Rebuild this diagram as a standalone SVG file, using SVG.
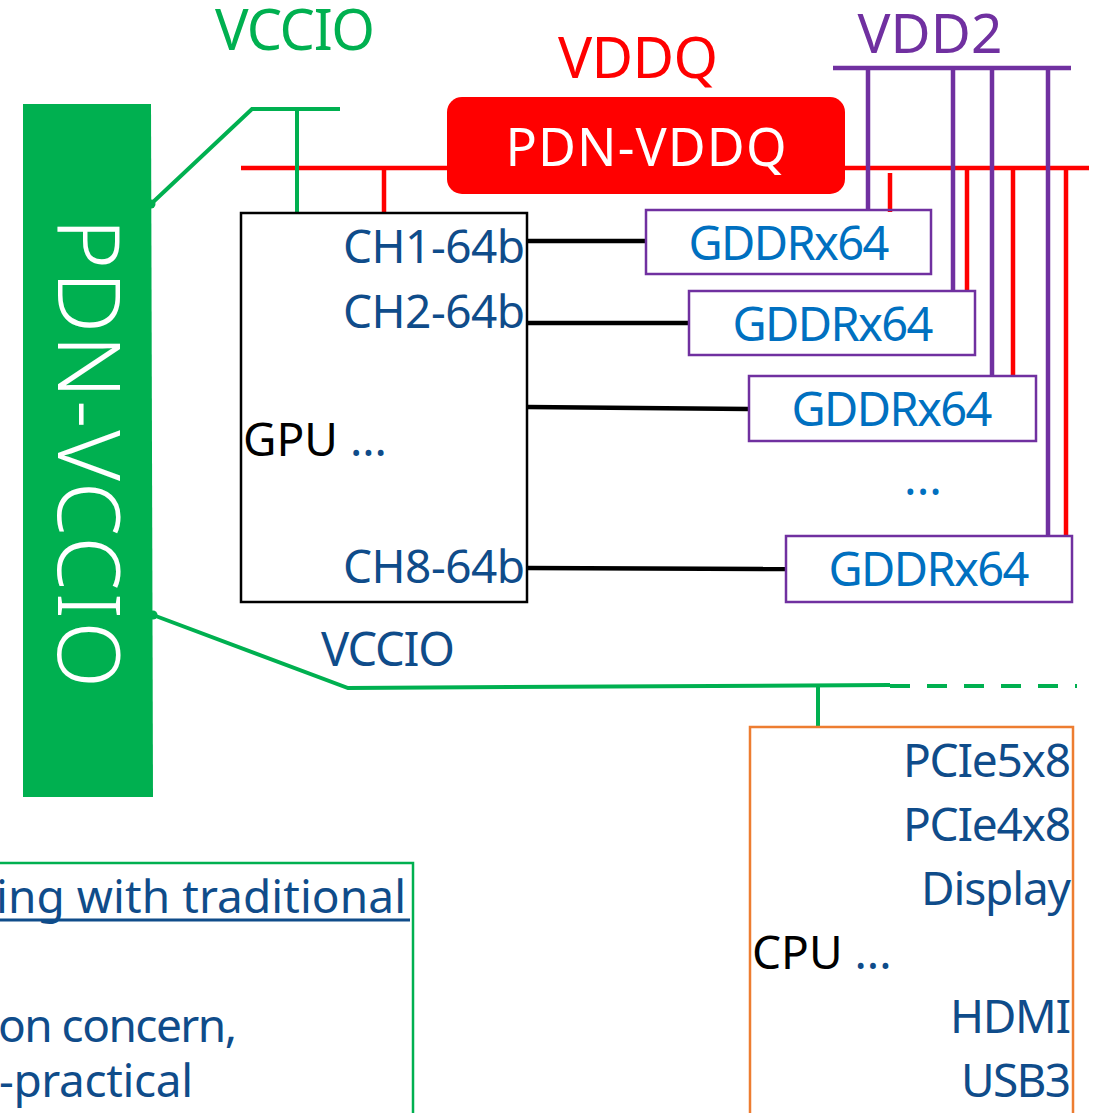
<svg xmlns="http://www.w3.org/2000/svg" width="1097" height="1113" viewBox="0 0 1097 1113">
<style>
text{font-family:"Noto Sans","Open Sans","Liberation Sans",sans-serif}
.db{fill:#0F4C8A}
.gb{fill:#0070C0}
.gd{fill:none;stroke:#7030A0;stroke-width:2.5}
.blk{stroke:#000;stroke-width:4.5}
.red{stroke:#FF0000;stroke-width:4.5}
.pur{stroke:#7030A0;stroke-width:4.5}
.grn{stroke:#00B050;stroke-width:4;fill:none}
</style>
<rect width="1097" height="1113" fill="#fff"/>
<g id="labels">
<text x="295" y="50" font-size="56" fill="#00B050" text-anchor="middle" textLength="160">VCCIO</text>
<text x="638" y="78" font-size="57" fill="#FF0000" text-anchor="middle" textLength="160">VDDQ</text>
<text x="930" y="53" font-size="55" fill="#7030A0" text-anchor="middle" textLength="145">VDD2</text>
<text x="388" y="666" font-size="47" class="db" text-anchor="middle" textLength="134">VCCIO</text>
</g>
<g id="connectors">
<line x1="241" y1="168" x2="1089" y2="168" class="red"/>
<line x1="384" y1="168" x2="384" y2="213" class="red"/>
<line x1="890" y1="173" x2="890" y2="212" class="red"/>
<line x1="967" y1="168" x2="967" y2="291" class="red"/>
<line x1="1013" y1="168" x2="1013" y2="376" class="red"/>
<line x1="1066" y1="168" x2="1066" y2="536" class="red"/>
<line x1="833" y1="68" x2="1071" y2="68" class="pur"/>
<line x1="868" y1="68" x2="868" y2="210" class="pur"/>
<line x1="953" y1="68" x2="953" y2="291" class="pur"/>
<line x1="992" y1="68" x2="992" y2="376" class="pur"/>
<line x1="1048" y1="68" x2="1048" y2="536" class="pur"/>
<line x1="527" y1="241" x2="646" y2="241" class="blk"/>
<line x1="527" y1="323" x2="689" y2="323" class="blk"/>
<line x1="527" y1="407" x2="749" y2="409" class="blk"/>
<line x1="527" y1="568" x2="786" y2="569" class="blk"/>
<polyline points="151,204 252,109 340,109" class="grn"/>
<line x1="297" y1="109" x2="297" y2="213" class="grn"/>
<circle cx="151" cy="204" r="4.5" fill="#00B050"/>
<polyline points="153,615 348,688 890,685" class="grn"/>
<line x1="890" y1="686" x2="1077" y2="686" class="grn" stroke-dasharray="20 17"/>
<line x1="818" y1="686" x2="818" y2="727" class="grn"/>
<circle cx="153" cy="615" r="4.5" fill="#00B050"/>
</g>
<g id="pdn-vccio">
<polygon points="23,104 151,104 153,797 23,797" fill="#00B050"/>
<text transform="translate(58,453) rotate(90)" font-size="87" font-weight="300" fill="#fff" text-anchor="middle" textLength="470">PDN-VCCIO</text>
</g>
<g id="pdn-vddq">
<rect x="447" y="97" width="398" height="97" rx="15" fill="#FF0000"/>
<text x="646" y="166" font-size="52" fill="#fff" text-anchor="middle" textLength="281">PDN-VDDQ</text>
</g>
<g id="gpu">
<rect x="241" y="213" width="286" height="389" fill="none" stroke="#000" stroke-width="2.5"/>
<text x="525" y="263" font-size="46" class="db" text-anchor="end" textLength="182">CH1-64b</text>
<text x="525" y="328" font-size="46" class="db" text-anchor="end" textLength="182">CH2-64b</text>
<text x="525" y="583" font-size="46" class="db" text-anchor="end" textLength="182">CH8-64b</text>
<text x="243" y="456" font-size="46" fill="#000">GPU<tspan class="db"> ...</tspan></text>
</g>
<g id="gddr1">
<rect x="646" y="210" width="285" height="64" class="gd"/>
<text x="789" y="260" font-size="47" class="gb" text-anchor="middle" textLength="201">GDDRx64</text>
</g>
<g id="gddr2">
<rect x="689" y="291" width="286" height="64" class="gd"/>
<text x="833" y="341" font-size="47" class="gb" text-anchor="middle" textLength="201">GDDRx64</text>
</g>
<g id="gddr3">
<rect x="749" y="376" width="287" height="65" class="gd"/>
<text x="892" y="426" font-size="47" class="gb" text-anchor="middle" textLength="201">GDDRx64</text>
</g>
<text x="923" y="495" font-size="47" class="gb" text-anchor="middle">...</text>
<g id="gddr4">
<rect x="786" y="536" width="286" height="66" class="gd"/>
<text x="929" y="586" font-size="47" class="gb" text-anchor="middle" textLength="201">GDDRx64</text>
</g>
<g id="cpu">
<rect x="750" y="727" width="323" height="400" fill="none" stroke="#ED7D31" stroke-width="2.5"/>
<text x="1071" y="777" font-size="46" class="db" text-anchor="end" textLength="168">PCIe5x8</text>
<text x="1071" y="841" font-size="46" class="db" text-anchor="end" textLength="168">PCIe4x8</text>
<text x="1071" y="905" font-size="46" class="db" text-anchor="end" textLength="150">Display</text>
<text x="752" y="969" font-size="46" fill="#000">CPU<tspan class="db"> ...</tspan></text>
<text x="1071" y="1033" font-size="46" class="db" text-anchor="end" textLength="121">HDMI</text>
<text x="1071" y="1097" font-size="46" class="db" text-anchor="end" textLength="110">USB3</text>
</g>
<g id="note">
<rect x="-10" y="863" width="423" height="300" fill="none" stroke="#00B050" stroke-width="2.5"/>
<text x="406" y="913" font-size="46" class="db" text-anchor="end" textLength="410">ing with traditional</text>
<line x1="-2" y1="920" x2="410" y2="920" stroke="#0F4C8A" stroke-width="3"/>
<text x="-2" y="1042" font-size="46" class="db" textLength="239">on concern,</text>
<text x="-1" y="1097" font-size="46" class="db" textLength="194">-practical</text>
</g>
</svg>
